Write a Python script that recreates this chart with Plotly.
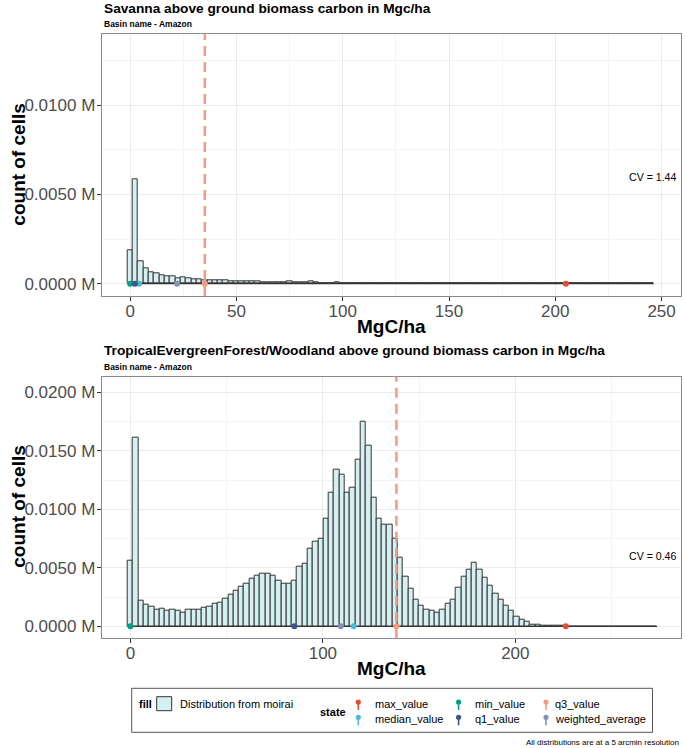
import plotly.graph_objects as go

W, H = 685, 748

# ---- data ----
# Savanna histogram (bin width 2.5 MgC/ha, first bin centred on 0)
sav_binwidth = 2.5
sav_counts = [1850, 5830, 1250, 860, 640, 580, 470, 430, 390, 300,
              350, 300, 240, 220, 190, 170, 200, 190, 170, 150,
              130, 130, 130, 120, 110, 100, 100, 100, 80, 80,
              140, 80, 60, 60, 140, 60, 50, 40, 40, 90,
              40, 40, 30, 30, 30, 30, 20, 20, 20, 20,
              20, 20, 15, 15, 15, 10, 10, 10, 10, 10,
              10, 8, 8, 8, 5, 5, 5, 5, 5, 5,
              3, 3, 3, 3, 3, 2, 2, 2, 2, 2,
              2, 1, 1, 0, 0, 0, 0, 0, 0, 0,
              0, 0, 0, 0, 0, 0, 0, 0, 0]

# TropicalEvergreenForest/Woodland histogram (bin width 2.75 MgC/ha)
tef_binwidth = 2.75
tef_counts = [5610, 16150, 2190, 1880, 1710, 1450, 1480, 1370, 1450, 1310,
              1200, 1450, 1400, 1400, 1600, 1710, 1970, 2050, 2360, 2740,
              3080, 3420, 3680, 4070, 4330, 4470, 4530, 4330, 3870, 3680,
              3680, 3930, 5100, 5380, 6670, 7260, 7490, 9200, 11400, 13420,
              12960, 11450, 11850, 14220, 17520, 15440, 11000, 9200, 8660, 8660,
              7520, 5900, 4250, 3190, 2310, 1790, 1450, 1340, 1200, 1450,
              1970, 2310, 3330, 4250, 4870, 5470, 4810, 4160, 3500, 2820,
              2310, 1740, 1340, 830, 540, 400, 170, 110, 90, 60,
              40, 30, 10, 0, 0, 0, 0, 0, 0, 0,
              0, 0, 0, 0, 0, 0, 0, 0, 0, 0]

stat_names = ["max_value", "median_value", "min_value",
              "q1_value", "q3_value", "weighted_average"]
stat_colors = ["#E64B35", "#4DBBD5", "#00A087", "#3C5488", "#F39B7F", "#8491B4"]
sav_stats = [205, 4.2, 0, 2.2, 35.1, 22.1]
tef_stats = [226.2, 116, 0, 85.2, 138.2, 109.3]

sav_cv = "CV = 1.44"
tef_cv = "CV = 0.46"

sav_yticks = [0, 5000, 10000]
tef_yticks = [0, 5000, 10000, 15000, 20000]

FILL = "#d6eff1"
FONT = "Liberation Sans, Arial, sans-serif"


def px(x):
    return x / W


def py(y):
    return 1 - y / H


def mlab(v):
    return "%.4f M" % (v / 1e6)


fig = go.Figure()

panels = [
    dict(counts=sav_counts, bw=sav_binwidth, stats=sav_stats, cv=sav_cv,
         title="Savanna above ground biomass carbon in Mgc/ha",
         xa="x", ya="y", top=34.3, bottom=296,
         xr=[-13.4, 259], yr=[-690, 13980], xt=[0, 50, 100, 150, 200, 250],
         xm=[25, 75, 125, 175, 225], yt=sav_yticks, ym=[2500, 7500, 12500]),
    dict(counts=tef_counts, bw=tef_binwidth, stats=tef_stats, cv=tef_cv,
         title="TropicalEvergreenForest/Woodland above ground biomass carbon in Mgc/ha",
         xa="x2", ya="y2", top=376.7, bottom=637.7,
         xr=[-14.9, 285.9], yr=[-974, 21333], xt=[0, 100, 200],
         xm=[50, 150, 250], yt=tef_yticks, ym=[2500, 7500, 12500, 17500]),
]

shapes = []
annotations = []

for i, p in enumerate(panels):
    centers = [k * p["bw"] for k in range(len(p["counts"]))]
    fig.add_trace(go.Bar(x=centers, y=p["counts"], width=p["bw"],
                         marker=dict(color=FILL, line=dict(color="#333333", width=1)),
                         xaxis=p["xa"], yaxis=p["ya"], hoverinfo="x+y"))
    # baseline of the outlined histogram (empty bins)
    fig.add_trace(go.Scatter(x=[centers[0] - p["bw"] / 2, centers[-1] + p["bw"] / 2], y=[0, 0],
                             mode="lines", line=dict(color="#333333", width=1.2),
                             xaxis=p["xa"], yaxis=p["ya"], hoverinfo="skip"))
    # q3 dashed line
    q3 = p["stats"][stat_names.index("q3_value")]
    shapes.append(dict(type="line", xref=p["xa"], yref=p["ya"] + " domain",
                       x0=q3, x1=q3, y0=0, y1=1, layer="above",
                       line=dict(color="#F39B7F", width=2.5, dash="10px,6px")))
    # stat points
    fig.add_trace(go.Scatter(x=p["stats"], y=[0] * len(p["stats"]), mode="markers",
                             marker=dict(color=stat_colors, size=6),
                             text=stat_names, xaxis=p["xa"], yaxis=p["ya"],
                             hoverinfo="text+x"))

    sfx = "" if i == 0 else "2"
    axis_common = dict(showline=True, mirror=True, linecolor="#8a8a8a", linewidth=1,
                       ticks="outside", ticklen=4, tickcolor="#333333", tickwidth=1,
                       tickfont=dict(size=17, color="#4d4d4d", family=FONT),
                       showgrid=True, gridcolor="#ebebeb", gridwidth=1, zeroline=False)
    fig.update_layout(**{
        "xaxis" + sfx: dict(domain=[px(101.7), px(680.7)], range=p["xr"], anchor=p["ya"],
                            tickmode="array", tickvals=p["xt"], ticklabelstandoff=-4,
                            minor=dict(tickmode="array", tickvals=p["xm"], showgrid=True,
                                       gridcolor="#f4f4f4", gridwidth=0.6, ticks=""),
                            **axis_common),
        "yaxis" + sfx: dict(domain=[py(p["bottom"]), py(p["top"])], range=p["yr"], anchor=p["xa"],
                            tickmode="array", tickvals=p["yt"], ticktext=[mlab(v) for v in p["yt"]],
                            ticklabelstandoff=-2,
                            minor=dict(tickmode="array", tickvals=p["ym"], showgrid=True,
                                       gridcolor="#f4f4f4", gridwidth=0.6, ticks=""),
                            **axis_common),
    })

    # titles
    annotations.append(dict(text="<b>%s</b>" % p["title"], xref="paper", yref="paper",
                            x=px(101.7), y=py(p["top"] - 26), xanchor="left", yanchor="middle",
                            showarrow=False, font=dict(size=13.7, color="black")))
    annotations.append(dict(text="<b>Basin name - Amazon</b>", xref="paper", yref="paper",
                            x=px(101.7), y=py(p["top"] - 10), xanchor="left", yanchor="middle",
                            showarrow=False, font=dict(size=8.5, color="black")))
    annotations.append(dict(text="<b>count of cells</b>", xref="paper", yref="paper",
                            x=px(18.5), y=py((p["top"] + p["bottom"]) / 2), textangle=-90,
                            xanchor="center", yanchor="middle", showarrow=False,
                            font=dict(size=19, color="black")))
    annotations.append(dict(text="<b>MgC/ha</b>", xref="paper", yref="paper",
                            x=px(391.2), y=py(p["bottom"] + 30.7), xanchor="center",
                            yanchor="middle", showarrow=False, font=dict(size=19, color="black")))
    annotations.append(dict(text=p["cv"], xref="paper", yref=p["ya"], x=px(652.7), y=6000,
                            xanchor="center", yanchor="middle", showarrow=False,
                            font=dict(size=10.6, color="black")))

# ---- legend (drawn by hand to mirror the ggplot guide box) ----
shapes.append(dict(type="rect", xref="paper", yref="paper", x0=px(131.7), x1=px(652.5),
                   y0=py(732.3), y1=py(688.3), line=dict(color="#555555", width=1)))
shapes.append(dict(type="rect", xref="paper", yref="paper", x0=px(156.7), x1=px(171.7),
                   y0=py(710.7), y1=py(696.7), fillcolor=FILL,
                   line=dict(color="#333333", width=1)))
annotations.append(dict(text="<b>fill</b>", xref="paper", yref="paper", x=px(136.7), y=py(704),
                        xanchor="left", yanchor="middle", showarrow=False,
                        font=dict(size=11, color="black")))
annotations.append(dict(text="Distribution from moirai", xref="paper", yref="paper",
                        x=px(178.3), y=py(704), xanchor="left", yanchor="middle",
                        showarrow=False, font=dict(size=11, color="black")))
annotations.append(dict(text="<b>state</b>", xref="paper", yref="paper", x=px(318), y=py(711.7),
                        xanchor="left", yanchor="middle", showarrow=False,
                        font=dict(size=11, color="black")))

pin_x = [358.3, 458.6, 546]
text_x = [372.7, 473, 553.2]
row_y = [704, 719.3]
for k, (name, col) in enumerate(zip(stat_names, stat_colors)):
    c, r = k // 2, k % 2
    cx, cy = pin_x[c], row_y[r] - 2
    shapes.append(dict(type="line", xref="paper", yref="paper", x0=px(cx), x1=px(cx),
                       y0=py(cy), y1=py(cy + 8), line=dict(color=col, width=1.6)))
    shapes.append(dict(type="circle", xref="paper", yref="paper", x0=px(cx - 2.6),
                       x1=px(cx + 2.6), y0=py(cy + 2.6), y1=py(cy - 2.6),
                       fillcolor=col, line=dict(width=0)))
    annotations.append(dict(text=name, xref="paper", yref="paper", x=px(text_x[c]),
                            y=py(row_y[r]), xanchor="left", yanchor="middle",
                            showarrow=False, font=dict(size=11, color="black")))

annotations.append(dict(text="All distributions are at a 5 arcmin resolution", xref="paper",
                        yref="paper", x=px(681), y=py(742.5), xanchor="right",
                        yanchor="middle", showarrow=False, font=dict(size=8, color="black")))

fig.update_layout(width=W, height=H, margin=dict(l=0, r=0, t=0, b=0),
                  paper_bgcolor="white", plot_bgcolor="white", showlegend=False,
                  font=dict(family=FONT), shapes=shapes, annotations=annotations,
                  bargap=0)

# the page body has a default 8px margin; drop it so the figure fills the window
fig.write_html("out.html", config={"displayModeBar": False},
               post_script="document.body.style.margin='0';document.body.style.overflow='hidden';")
